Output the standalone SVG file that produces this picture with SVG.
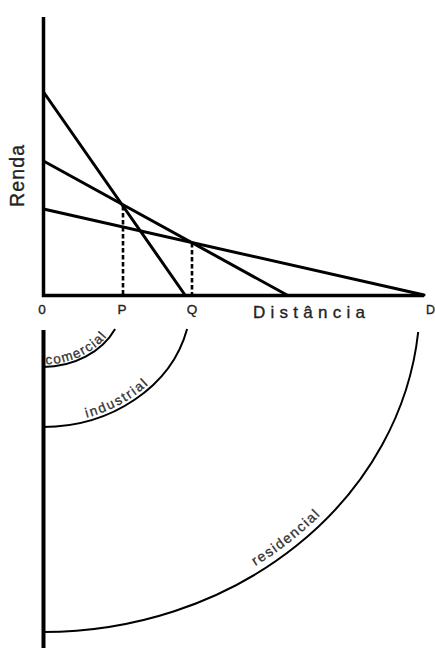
<svg xmlns="http://www.w3.org/2000/svg" width="435" height="648" viewBox="0 0 435 648">
  <style>
    .axis { stroke: #000; stroke-width: 3.5; fill: none; stroke-linecap: butt; }
    .rent { stroke: #000; stroke-width: 3; fill: none; stroke-linecap: round; }
    .dash { stroke: #000; stroke-width: 2.6; stroke-dasharray: 4.5 2.5; fill: none; }
    .arc { stroke: #000; stroke-width: 2; fill: none; }
    .lbl { font-family: "Liberation Sans", Arial, sans-serif; fill: #222; stroke: #222; stroke-width: 0.35; }
    .arclbl { font-family: "Liberation Sans", Arial, sans-serif; fill: #333; stroke: #333; stroke-width: 0.3; }
  </style>
  <defs>
    <path id="p-com" d="M 43 367 A 80 67 0 0 0 115.1 329"/>
    <path id="p-ind" d="M 43 427 A 148 127 0 0 0 187.1 329"/>
    <path id="p-res" d="M 43 632 A 377 332 0 0 0 418.2 332"/>
  </defs>
  <rect width="435" height="648" fill="#fff"/>

  <g id="axes">
    <path class="axis" d="M 43.5 17 L 43.5 295.5 L 424 295.5"/>
    <path class="axis" d="M 43.5 330 L 43.5 648" style="stroke-width:4"/>
  </g>

  <g id="connectors">
    <line id="curve-comercial" class="rent" x1="43.5" y1="92" x2="185" y2="295"/>
    <line id="curve-industrial" class="rent" x1="43.5" y1="161" x2="287" y2="295"/>
    <line id="curve-residencial" class="rent" x1="43.5" y1="209" x2="424" y2="295"/>
    <line id="drop-P" class="dash" x1="123" y1="206" x2="123" y2="294"/>
    <line id="drop-Q" class="dash" x1="192" y1="243" x2="192" y2="294"/>
  </g>

  <g id="labels">
    <text class="lbl" x="42" y="314" font-size="13.5" text-anchor="middle">0</text>
    <text class="lbl" x="122" y="314" font-size="13.5" text-anchor="middle">P</text>
    <text class="lbl" x="192" y="314" font-size="13.5" text-anchor="middle">Q</text>
    <text class="lbl" x="426" y="314" font-size="12.5">D</text>
    <text class="lbl" x="253" y="318" font-size="17" textLength="112" lengthAdjust="spacing">Distância</text>
    <text class="lbl" transform="translate(24 207) rotate(-90)" font-size="19.5" textLength="62" lengthAdjust="spacing">Renda</text>
  </g>

  <g id="zone-comercial">
    <use href="#p-com" class="arc"/>
    <text class="arclbl" font-size="13.5" letter-spacing="1.6" dy="-2.5"><textPath href="#p-com" startOffset="3">comercial</textPath></text>
  </g>
  <g id="zone-industrial">
    <use href="#p-ind" class="arc"/>
    <text class="arclbl" font-size="13.5" letter-spacing="2" dy="-3.5"><textPath href="#p-ind" startOffset="45">industrial</textPath></text>
  </g>
  <g id="zone-residencial">
    <use href="#p-res" class="arc"/>
    <text class="arclbl" font-size="14" letter-spacing="1.7" dy="-7"><textPath href="#p-res" startOffset="227">residencial</textPath></text>
  </g>
</svg>
